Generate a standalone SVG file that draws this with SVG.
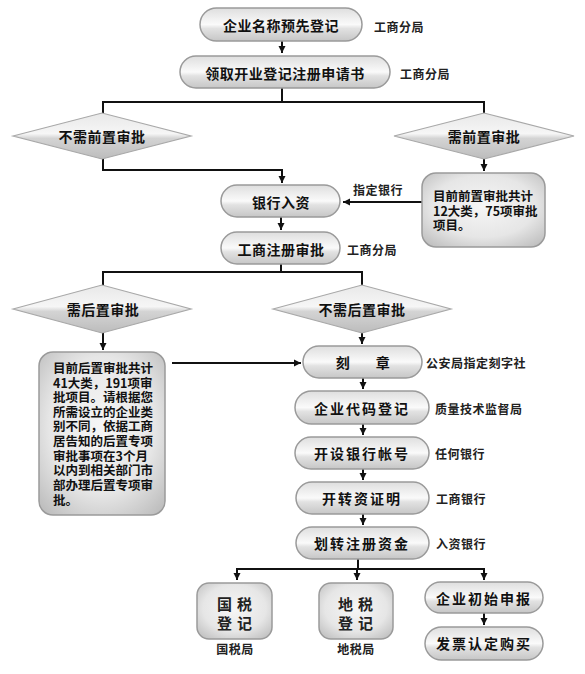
<svg xmlns="http://www.w3.org/2000/svg" width="585" height="674" viewBox="0 0 585 674">
<defs>
<linearGradient id="pillG" x1="0" y1="0" x2="0" y2="1">
<stop offset="0" stop-color="#dedede"/>
<stop offset="0.35" stop-color="#f2f2f2"/>
<stop offset="0.5" stop-color="#fafafa"/>
<stop offset="0.62" stop-color="#e2e2e2"/>
<stop offset="1" stop-color="#c6c6c6"/>
</linearGradient>
<linearGradient id="diaG" x1="0" y1="0" x2="0" y2="1">
<stop offset="0" stop-color="#e8e8e8"/>
<stop offset="0.45" stop-color="#f6f6f6"/>
<stop offset="0.55" stop-color="#d4d4d4"/>
<stop offset="1" stop-color="#bcbcbc"/>
</linearGradient>
<radialGradient id="boxG" cx="0.5" cy="0.45" r="0.7">
<stop offset="0" stop-color="#f6f6f6"/>
<stop offset="0.6" stop-color="#e6e6e6"/>
<stop offset="1" stop-color="#bdbdbd"/>
</radialGradient>
<marker id="arr" markerWidth="8" markerHeight="8" refX="7" refY="4" orient="auto" markerUnits="userSpaceOnUse">
<path d="M0,0.5 L7,4 L0,7.5 Z" fill="#111"/>
</marker>
</defs>
<style>
.pill{fill:url(#pillG);stroke:#9a9a9a;stroke-width:1.5}
.dia{fill:url(#diaG);stroke:#a8a8a8;stroke-width:1.2}
.box{fill:url(#boxG);stroke:#9a9a9a;stroke-width:1.5}
.t{font-family:"Noto Sans CJK SC","Liberation Sans",sans-serif;font-weight:bold;font-size:14px;fill:#111;text-anchor:middle;dominant-baseline:central;letter-spacing:0.5px}
.lb{font-family:"Noto Sans CJK SC","Liberation Sans",sans-serif;font-weight:bold;font-size:12px;fill:#222;dominant-baseline:central;letter-spacing:0.5px}
.bt{font-family:"Noto Sans CJK SC","Liberation Sans",sans-serif;font-weight:bold;font-size:12.5px;fill:#111}
.big{font-family:"Noto Sans CJK SC","Liberation Sans",sans-serif;font-weight:bold;font-size:15px;fill:#222;text-anchor:middle;dominant-baseline:central;letter-spacing:5px}
.ln{fill:none;stroke:#111;stroke-width:2}
.ar{fill:none;stroke:#111;stroke-width:2;marker-end:url(#arr)}
</style>
<g id="connectors">
<path class="ar" d="M282,41 V53"/>
<path class="ln" d="M282,88 V102 M103,102 H484 M103,101 V113 M484,101 V113"/>
<path class="ar" d="M103,159 V170 H282 V183"/>
<path class="ar" d="M484,159 V171"/>
<path class="ar" d="M422,202 H343"/>
<path class="ar" d="M281,217 V230"/>
<path class="ln" d="M281,264 V272 M103,272 H362 M103,271 V285 M362,271 V285"/>
<path class="ar" d="M103,333 V350"/>
<path class="ar" d="M362,333 V344"/>
<path class="ar" d="M172,363 H301"/>
<path class="ar" d="M363,378 V389"/>
<path class="ar" d="M363,424 V435"/>
<path class="ar" d="M363,469 V480"/>
<path class="ar" d="M363,514 V525"/>
<path class="ln" d="M358,559 V569 M236,569 H485"/>
<path class="ar" d="M237,568 V580"/>
<path class="ar" d="M357,568 V580"/>
<path class="ar" d="M484,568 V580"/>
<path class="ar" d="M484,613 V625"/>
</g>
<g id="n1"><rect class="pill" x="200" y="8" width="162" height="33" rx="16.5"/><text class="t" x="281" y="25">企业名称预先登记</text><text class="lb" x="374" y="26">工商分局</text></g>
<g id="n2"><rect class="pill" x="180" y="56" width="210" height="32" rx="16"/><text class="t" x="285" y="73">领取开业登记注册申请书</text><text class="lb" x="400" y="73">工商分局</text></g>
<g id="d1"><polygon class="dia" points="13,136 102,113 191,136 102,159"/><text class="t" x="102" y="136">不需前置审批</text></g>
<g id="d2"><polygon class="dia" points="394,136 484,113 574,136 484,159"/><text class="t" x="484" y="136">需前置审批</text></g>
<g id="b1"><rect class="box" x="422" y="173" width="123" height="74" rx="14"/>
<text class="bt" x="433" y="201">目前前置审批共计</text>
<text class="bt" x="433" y="216">12大类，75项审批</text>
<text class="bt" x="433" y="230">项目。</text></g>
<g id="n3"><rect class="pill" x="221" y="185" width="119" height="32" rx="16"/><text class="t" x="281" y="202">银行入资</text><text class="lb" x="353" y="189">指定银行</text></g>
<g id="n4"><rect class="pill" x="221" y="232" width="119" height="32" rx="16"/><text class="t" x="281" y="249">工商注册审批</text><text class="lb" x="347" y="249">工商分局</text></g>
<g id="d3"><polygon class="dia" points="13,309 102,285 191,309 102,333"/><text class="t" x="103" y="309">需后置审批</text></g>
<g id="d4"><polygon class="dia" points="273,309 362,285 451,309 362,333"/><text class="t" x="362" y="309">不需后置审批</text></g>
<g id="b2"><rect class="box" x="39" y="352" width="126" height="163" rx="14"/>
<text class="bt" x="53" y="373">目前后置审批共计</text>
<text class="bt" x="53" y="387.6">41大类，191项审</text>
<text class="bt" x="53" y="402.2">批项目。请根据您</text>
<text class="bt" x="53" y="416.8">所需设立的企业类</text>
<text class="bt" x="53" y="431.4">别不同，依据工商</text>
<text class="bt" x="53" y="446">居告知的后置专项</text>
<text class="bt" x="53" y="460.6">审批事项在3个月</text>
<text class="bt" x="53" y="475.2">以内到相关部门市</text>
<text class="bt" x="53" y="489.8">部办理后置专项审</text>
<text class="bt" x="53" y="505">批。</text></g>
<g id="n5"><rect class="pill" x="303" y="346" width="119" height="32" rx="16"/><text class="t" x="343" y="362">刻</text><text class="t" x="383" y="362">章</text><text class="lb" x="426" y="362">公安局指定刻字社</text></g>
<g id="n6"><rect class="pill" x="295" y="391" width="134" height="33" rx="16.5"/><text class="t" x="362" y="408" style="letter-spacing:2px">企业代码登记</text><text class="lb" x="435" y="408">质量技术监督局</text></g>
<g id="n7"><rect class="pill" x="295" y="437" width="134" height="32" rx="16"/><text class="t" x="362" y="453" style="letter-spacing:2px">开设银行帐号</text><text class="lb" x="435" y="453">任何银行</text></g>
<g id="n8"><rect class="pill" x="296" y="482" width="133" height="32" rx="16"/><text class="t" x="362" y="498" style="letter-spacing:2px">开转资证明</text><text class="lb" x="436" y="498">工商银行</text></g>
<g id="n9"><rect class="pill" x="296" y="527" width="133" height="32" rx="16"/><text class="t" x="362" y="543" style="letter-spacing:2px">划转注册资金</text><text class="lb" x="436" y="543">入资银行</text></g>
<g id="n10"><rect class="box" x="197" y="583" width="75" height="56" rx="12"/><text class="big" x="237" y="603">国税</text><text class="big" x="237" y="622">登记</text><text class="lb" x="235" y="648" text-anchor="middle">国税局</text></g>
<g id="n11"><rect class="box" x="319" y="583" width="74" height="56" rx="12"/><text class="big" x="358" y="603">地税</text><text class="big" x="358" y="622">登记</text><text class="lb" x="356" y="648" text-anchor="middle">地税局</text></g>
<g id="n12"><rect class="pill" x="425" y="582" width="118" height="31" rx="15.5"/><text class="t" x="484" y="598" style="letter-spacing:2px">企业初始申报</text></g>
<g id="n13"><rect class="pill" x="425" y="627" width="118" height="33" rx="16.5"/><text class="t" x="484" y="643" style="letter-spacing:2px">发票认定购买</text></g>
</svg>
